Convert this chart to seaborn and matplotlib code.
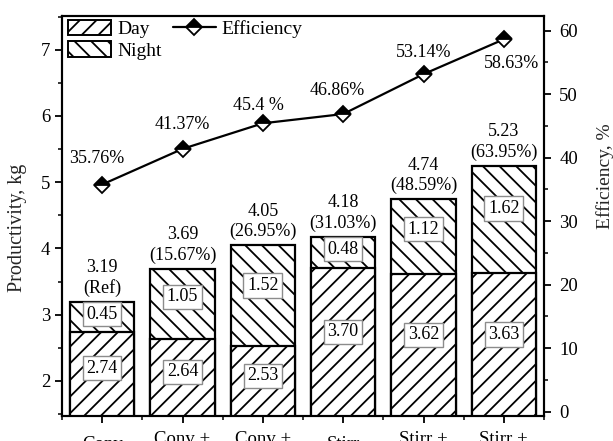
import numpy as np
import pandas as pd
import matplotlib
matplotlib.use("Agg")
import matplotlib.pyplot as plt
from matplotlib.patches import Patch
from matplotlib.lines import Line2D
from matplotlib.ticker import MultipleLocator
import seaborn as sns

# Treatments along the x axis (first line of each label)
cases = ["Conv", "Conv +", "Conv +", "Stirr", "Stirr +", "Stirr +"]
# Daily productivity split into day and night yield, kg
day = [2.74, 2.64, 2.53, 3.70, 3.62, 3.63]
night = [0.45, 1.05, 1.52, 0.48, 1.12, 1.62]
# Totals and gains printed above each bar
total_text = ["3.19", "3.69", "4.05", "4.18", "4.74", "5.23"]
gain_text = ["(Ref)", "(15.67%)", "(26.95%)", "(31.03%)", "(48.59%)", "(63.95%)"]
# Thermal efficiency, %
efficiency = [35.76, 41.37, 45.4, 46.86, 53.14, 58.63]
eff_text = ["35.76%", "41.37%", "45.4 %", "46.86%", "53.14%", "58.63%"]

sns.set_theme(style="ticks")
plt.rcParams["font.family"] = ["Liberation Serif", "DejaVu Serif"]
plt.rcParams["hatch.linewidth"] = 1.3
plt.rcParams["axes.linewidth"] = 1.5
plt.rcParams["axes.edgecolor"] = "black"
plt.rcParams["xtick.color"] = "black"
plt.rcParams["ytick.color"] = "black"
plt.rcParams["text.color"] = "black"

df = pd.DataFrame({"case": range(len(cases)), "day": day, "night": night})
df["total"] = df["day"] + df["night"]

fig = plt.figure(figsize=(6.13, 4.41), dpi=100)
ax = fig.add_axes([62 / 613, 25 / 441, 482 / 613, 400 / 441])

bar_kw = dict(color="white", saturation=1, edgecolor="black", linewidth=1.6,
              width=0.8, errorbar=None, ax=ax)
# night part is the full stack, the day part is drawn over its lower section
sns.barplot(data=df, x="case", y="total", hatch="\\\\", **bar_kw)
sns.barplot(data=df, x="case", y="day", hatch="//", **bar_kw)

ylo, yhi = 1.47, 7.51
ax.set_xlim(-0.5, 5.5)
ax.set_ylim(ylo, yhi)
ax.yaxis.set_major_locator(MultipleLocator(1))
ax.yaxis.set_minor_locator(MultipleLocator(0.5))
ax.set_xticks(range(len(cases)))
ax.set_xticks(np.arange(-0.5, 6.0, 1.0), minor=True)
ax.set_xticklabels([c + "\n" if c.endswith("+") else c for c in cases])
for lab in ax.get_xticklabels():
    lab.set_verticalalignment("center")
    lab.set_linespacing(0.5)
ax.tick_params(axis="both", which="major", direction="out", length=5, width=1.3,
               labelsize=13.5)
ax.tick_params(axis="both", which="minor", direction="out", length=3, width=1.1)
ax.tick_params(axis="x", which="major", pad=15.5)
ax.tick_params(top=False, right=False, which="both")
for s in ax.spines.values():
    s.set_visible(True)
    s.set_linewidth(1.5)
ax.set_xlabel("")
ax.set_ylabel("Productivity, kg", fontsize=14.5)
ax.yaxis.set_label_coords(-0.073, 0.47)

box = dict(boxstyle="square,pad=0.2", fc="white", ec="#8c8c8c", lw=1.0)
for i, (d, n) in enumerate(zip(day, night)):
    ax.text(i, ylo + 0.57 * (d - ylo), f"{d:.2f}", ha="center", va="center",
            fontsize=13, bbox=box, zorder=5)
    ax.text(i, d + 0.6 * n, f"{n:.2f}", ha="center", va="center",
            fontsize=13, bbox=box, zorder=5)
    ax.annotate(f"{total_text[i]}\n{gain_text[i]}", (i, d + n),
                xytext=(0, 5), textcoords="offset pixels", ha="center",
                va="bottom", fontsize=13, linespacing=1.25)

ax2 = ax.twinx()
sns.lineplot(x=np.arange(len(efficiency)), y=efficiency, ax=ax2, color="black",
             linewidth=1.6, marker="D", markersize=8.5, fillstyle="top",
             markerfacecolor="black", markerfacecoloralt="white",
             markeredgecolor="black", markeredgewidth=1.3)
ax2.set_ylim(-0.7, 62.3)
ax2.set_xlim(-0.5, 5.5)
ax2.yaxis.set_major_locator(MultipleLocator(10))
ax2.yaxis.set_minor_locator(MultipleLocator(5))
ax2.tick_params(axis="y", which="major", direction="out", length=5, width=1.3,
                labelsize=13.5, pad=6)
ax2.tick_params(axis="y", which="minor", direction="out", length=3, width=1.1)
ax2.set_ylabel("Efficiency, %", fontsize=14)
ax2.yaxis.set_label_coords(1.108, 0.6)

# percentage labels around the efficiency markers (offsets in pixels)
eff_offsets = [(-5, 26), (0, 24), (-4, 18), (-6, 24), (0, 22), (8, -24)]
for i, (e, t) in enumerate(zip(efficiency, eff_text)):
    ax2.annotate(t, (i, e), xytext=eff_offsets[i], textcoords="offset pixels",
                 ha="center", va="center", fontsize=13)

handles = [
    Patch(facecolor="white", edgecolor="black", hatch="//", linewidth=1.4),
    Patch(facecolor="white", edgecolor="black", hatch="\\\\", linewidth=1.4),
    Line2D([], [], color="black", linewidth=1.6, marker="D", markersize=8.5,
           fillstyle="top", markerfacecolor="black", markerfacecoloralt="white",
           markeredgecolor="black", markeredgewidth=1.3),
]
ax2.legend(handles, ["Day", "Night", "Efficiency"], loc="upper left",
           bbox_to_anchor=(0.005, 1.0), ncol=2, frameon=False, fontsize=14,
           handlelength=2.2, handleheight=0.85, handletextpad=0.3,
           columnspacing=0.6, labelspacing=0.15, borderaxespad=0.1,
           borderpad=0.1)

fig.savefig("out.png", dpi=100)
